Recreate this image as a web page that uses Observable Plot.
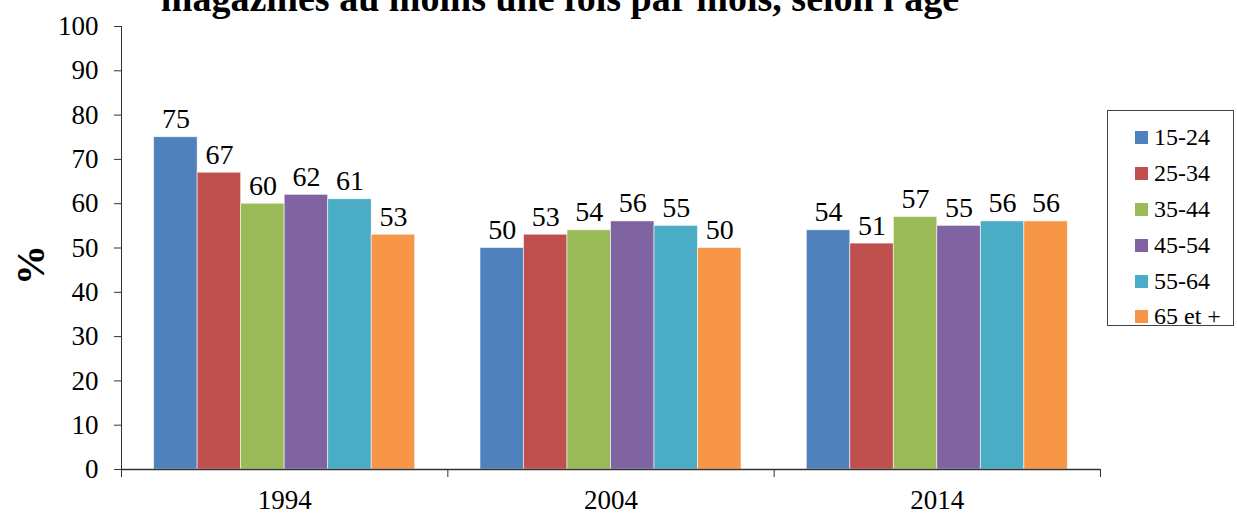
<!DOCTYPE html>
<html>
<head>
<meta charset="utf-8">
<script src="https://cdn.jsdelivr.net/npm/d3@7"></script>
<script src="https://cdn.jsdelivr.net/npm/@observablehq/plot@0.6"></script>
<style>
  body { margin: 0; background: #fff; }
  #wrap { position: relative; width: 1237px; height: 515px; overflow: hidden;
          font-family: "Liberation Serif", "Times New Roman", serif; color: #000; }
  #title { position: absolute; left: 0; width: 1120px; top: -21px; text-align: center;
           font-weight: bold; font-size: 38px; line-height: 38px; white-space: nowrap; }
  #ylabel { position: absolute; left: 31px; top: 265px; font-weight: bold; font-size: 40px;
            line-height: 40px; transform: translate(-50%, -50%) rotate(-90deg); }
  #chart { position: absolute; left: 0; top: 0; }
  #legend { position: absolute; left: 1107px; top: 110px; width: 127px; height: 216px;
            box-sizing: border-box; border: 1px solid #444; background: #fff;
            padding-top: 9px; }
  .item { display: flex; align-items: center; height: 35.8px; padding-left: 27px;
          font-size: 24px; }
  .sw { width: 13px; height: 13px; margin-right: 6px; flex: none; }
</style>
</head>
<body>
<div id="wrap">
  <div id="chart"></div>
  <div id="title">magazines au moins une fois par mois, selon l'âge</div>
  <div id="ylabel">%</div>
  <div id="legend"></div>
</div>
<script>
// Survey years and age groups
const years = ["1994", "2004", "2014"];
const ages = ["15-24", "25-34", "35-44", "45-54", "55-64", "65 et +"];

// Share (%) per age group, one array per year
const values1994 = [75, 67, 60, 62, 61, 53];
const values2004 = [50, 53, 54, 56, 55, 50];
const values2014 = [54, 51, 57, 55, 56, 56];

const colors = ["#4F81BD", "#C0504D", "#9BBB59", "#8064A2", "#4BACC6", "#F79646"];
const yTicks = d3.range(0, 101, 10);

const byYear = [values1994, values2004, values2014];
const rows = years.flatMap((year, yi) =>
  ages.map((age, ai) => ({ year, yi, age, ai, value: byYear[yi][ai] }))
);

// Each year occupies one unit on x; bars fill the middle 80% of it
const groupPad = 0.1;
const barW = (1 - 2 * groupPad) / ages.length;
const left = d => d.yi + groupPad + d.ai * barW;

const chart = Plot.plot({
  width: 1237,
  height: 515,
  marginLeft: 121,
  marginRight: 137,
  marginTop: 26,
  marginBottom: 46,
  style: { fontFamily: "Liberation Serif, Times New Roman, serif", fontSize: "27px", color: "#000", background: "transparent" },
  x: { type: "linear", domain: [0, years.length] },
  y: { domain: [0, 100] },
  color: { domain: ages, range: colors },
  marks: [
    Plot.rectY(rows, {
      x1: left,
      x2: d => left(d) + barW,
      y: "value",
      fill: "age",
      stroke: "#fff",
      strokeWidth: 0.8,
      strokeOpacity: 0.7
    }),
    Plot.text(rows, {
      x: d => left(d) + barW / 2,
      y: "value",
      text: d => String(d.value),
      dy: -18,
      fontSize: 28,
      fill: "#000"
    }),
    Plot.axisY({ ticks: yTicks, tickSize: 7, tickPadding: 16, fontSize: 27, label: null, stroke: "#333" }),
    Plot.axisX({ ticks: d3.range(0, years.length + 1), tickSize: 8, tickFormat: () => "", label: null, stroke: "#333" }),
    Plot.axisX({ ticks: years.map((_, i) => i + 0.5), tickSize: 0, tickPadding: 20,
                 tickFormat: x => years[Math.floor(x)], fontSize: 27, label: null }),
    Plot.ruleX([0], { y1: 0, y2: 100, stroke: "#333" }),
    Plot.ruleY([0], { stroke: "#333", strokeWidth: 1.3 })
  ]
});
document.getElementById("chart").appendChild(chart);

// Legend box on the right
const legend = d3.select("#legend");
ages.forEach((age, i) => {
  const item = legend.append("div").attr("class", "item");
  item.append("div").attr("class", "sw").style("background", colors[i]);
  item.append("span").text(age);
});
</script>
</body>
</html>
